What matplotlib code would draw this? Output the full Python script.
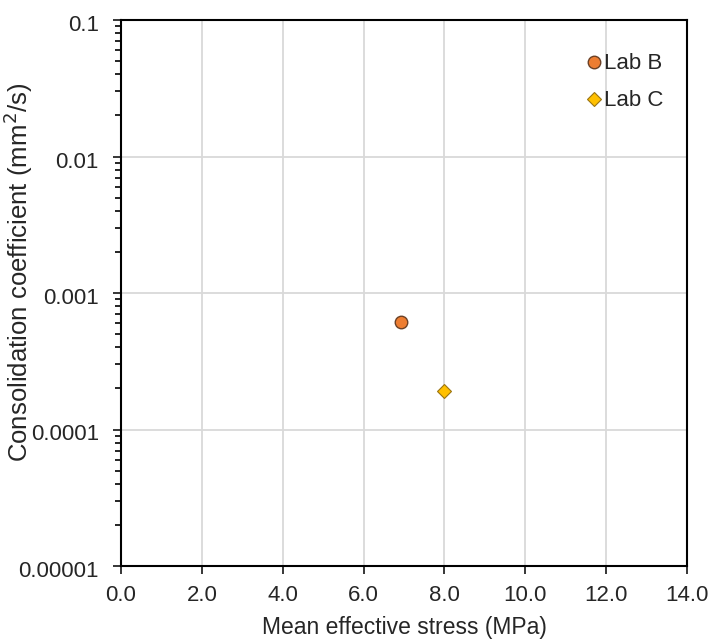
import matplotlib
matplotlib.use('Agg')
import matplotlib.pyplot as plt
import matplotlib.transforms as mtransforms
from matplotlib.ticker import LogLocator, FixedLocator, NullFormatter

plt.rcParams['font.family'] = ['Liberation Sans', 'DejaVu Sans']

# mean effective stress (MPa) and consolidation coefficient (mm2/s)
lab_b_stress = [6.93]
lab_b_cv = [6.1e-4]
lab_c_stress = [7.98]
lab_c_cv = [1.9e-4]

x_ticks = [0, 2, 4, 6, 8, 10, 12, 14]
y_ticks = [1e-5, 1e-4, 1e-3, 1e-2, 1e-1]
y_labels = ['0.00001', '0.0001', '0.001', '0.01', '0.1']

fig = plt.figure(figsize=(7.12, 6.44), dpi=100)
ax = fig.add_axes([121 / 712, 78 / 644, 566 / 712, 546 / 644])

ax.set_yscale('log')
ax.set_xlim(0, 14)
ax.set_ylim(1e-5, 0.1)

ax.grid(True, which='major', color='#d9d9d9', linewidth=1.3, zorder=0)
ax.set_axisbelow(True)

ax.plot(lab_b_stress, lab_b_cv, 'o', ms=9, mfc='#ed7d31', mec='#6b4126',
        mew=1.0, label='Lab B', zorder=3)
ax.plot(lab_c_stress, lab_c_cv, 'D', ms=7, mfc='#ffc000', mec='#9a7412',
        mew=0.8, label='Lab C', zorder=3)

ax.xaxis.set_major_locator(FixedLocator(x_ticks))
ax.set_xticklabels(['%.1f' % v for v in x_ticks])
ax.yaxis.set_major_locator(FixedLocator(y_ticks))
ax.set_yticklabels(y_labels)
ax.yaxis.set_minor_locator(LogLocator(base=10, subs=range(2, 10), numticks=20))
ax.yaxis.set_minor_formatter(NullFormatter())

ax.tick_params(axis='both', which='major', direction='out', length=6,
               width=1.3, labelsize=16, colors='#262626')
ax.tick_params(axis='x', which='major', pad=8)
ax.tick_params(axis='y', which='major', pad=10)
ax.tick_params(axis='y', which='minor', direction='out', length=4, width=1.2)
ax.tick_params(axis='x', which='minor', length=0)

# nudge the y tick labels down a little
shift = mtransforms.ScaledTranslation(0, -3 / 100, fig.dpi_scale_trans)
for lbl in ax.get_yticklabels():
    lbl.set_transform(lbl.get_transform() + shift)

for s in ax.spines.values():
    s.set_linewidth(1.5)
    s.set_color('black')

ax.set_xlabel('Mean effective stress (MPa)', fontsize=16.5, color='#262626')
ax.xaxis.set_label_coords(0.5, -0.092)
ax.set_ylabel('Consolidation coefficient (mm$^2$/s)', fontsize=18.5,
              color='#262626')
ax.yaxis.set_label_coords(-0.152, 0.538)

leg = ax.legend(loc='upper right', frameon=False, fontsize=16,
                handlelength=0.6, handletextpad=0.15, labelspacing=0.72,
                borderaxespad=0, bbox_to_anchor=(0.974, 0.955))
for t in leg.get_texts():
    t.set_color('#262626')

fig.savefig('out.png', dpi=100)
